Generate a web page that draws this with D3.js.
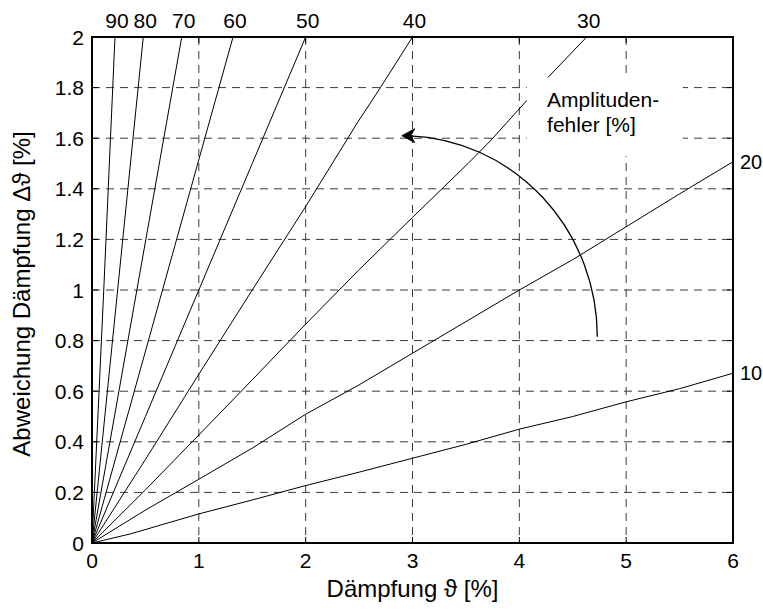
<!DOCTYPE html>
<html>
<head>
<meta charset="utf-8">
<script src="https://cdn.jsdelivr.net/npm/d3@7"></script>
<style>
  html, body { margin: 0; padding: 0; background: #fff; }
  svg text { font-family: "Liberation Sans", Arial, Helvetica, sans-serif; fill: #000; }
</style>
</head>
<body>
<svg id="chart" width="763" height="613"></svg>
<script>
// Damping deviation Δϑ over damping ϑ, one curve per amplitude error [%]
const curveNames = ["10", "20", "30", "40", "50", "60", "70", "80", "90"];

const curve10 = [[0,0],[0.36,0.036],[1,0.115],[1.5,0.17],[2,0.227],[2.5,0.28],[3,0.335],[3.5,0.39],[4,0.45],[4.5,0.5],[5,0.558],[5.5,0.61],[6,0.671]];
const curve20 = [[0,0],[0.5,0.13],[1,0.252],[1.5,0.375],[2,0.509],[2.5,0.625],[3,0.75],[3.5,0.875],[4,1.0],[4.5,1.12],[5,1.25],[5.5,1.38],[6,1.507]];
const curve30 = [[0,0],[0.5,0.21],[1,0.427],[1.5,0.645],[2,0.865],[2.5,1.08],[3,1.287],[3.52,1.5],[3.73,1.59],[4.2,1.81],[4.63,2.0]];
const curve40 = [[0,0],[0.5,0.33],[1,0.667],[1.5,1.0],[2,1.33],[2.49,1.665],[2.7,1.8],[3.0,2.0]];
const curve50 = [[0,0],[0.5,0.5],[1,1],[1.5,1.5],[2.0,2.0]];
const curve60 = [[0,0],[0.66,1.0],[1.32,2.0]];
const curve70 = [[0,0],[0.42,1.0],[0.84,2.0]];
const curve80 = [[0,0],[0.24,1.0],[0.48,2.0]];
const curve90 = [[0,0],[0.11,1.0],[0.215,2.0]];
const curves = [curve10, curve20, curve30, curve40, curve50, curve60, curve70, curve80, curve90];

const xTicks = [0, 1, 2, 3, 4, 5, 6];
const xTickLabels = ["0", "1", "2", "3", "4", "5", "6"];
const yTicks = [0, 0.2, 0.4, 0.6, 0.8, 1, 1.2, 1.4, 1.6, 1.8, 2];
const yTickLabels = ["0", "0.2", "0.4", "0.6", "0.8", "1", "1.2", "1.4", "1.6", "1.8", "2"];

const xTitle = "Dämpfung ϑ [%]";
const yTitle = "Abweichung Dämpfung Δϑ [%]";
const noteLines = ["Amplituden-", "fehler [%]"];
// curved arrow: start and tip of the quarter ellipse, in data units
const arrowStart = [4.73, 0.815];
const arrowTip = [2.9, 1.61];

const svg = d3.select("#chart");
const plotL = 92, plotR = 733, plotT = 37, plotB = 543;
const fs = 21;      // tick, curve and note labels
const fsTitle = 24; // axis titles

const x = d3.scaleLinear().domain([0, 6]).range([plotL, plotR]);
const y = d3.scaleLinear().domain([0, 2]).range([plotB, plotT]);

// dashed grid
const grid = svg.append("g");
grid.selectAll("line.gx").data(xTicks.slice(1, -1)).join("line")
  .attr("x1", d => x(d)).attr("x2", d => x(d))
  .attr("y1", plotT).attr("y2", plotB)
  .attr("stroke", "#3a3a3a").attr("stroke-width", 1).attr("stroke-dasharray", "8,6");
grid.selectAll("line.gy").data(yTicks.slice(1, -1)).join("line")
  .attr("x1", plotL).attr("x2", plotR)
  .attr("y1", d => y(d)).attr("y2", d => y(d))
  .attr("stroke", "#3a3a3a").attr("stroke-width", 1).attr("stroke-dasharray", "8,6");

// curves
const line = d3.line().x(d => x(d[0])).y(d => y(d[1]));
svg.append("g").selectAll("path").data(curves).join("path")
  .attr("d", line).attr("fill", "none").attr("stroke", "#000").attr("stroke-width", 1);

// curve labels: along the top for the steep ones, at the right for the flat ones
curves.forEach((c, i) => {
  const last = c[c.length - 1];
  if (last[1] >= 2) {
    svg.append("text").attr("x", x(last[0]) + 2).attr("y", plotT - 9)
      .attr("text-anchor", "middle").attr("font-size", fs).text(curveNames[i]);
  } else {
    svg.append("text").attr("x", x(last[0]) + 7).attr("y", y(last[1]) + 7)
      .attr("text-anchor", "start").attr("font-size", 20).text(curveNames[i]);
  }
});

// note with white background
svg.append("rect")
  .attr("x", x(4.07)).attr("y", y(1.84))
  .attr("width", x(5.53) - x(4.07)).attr("height", y(1.53) - y(1.84))
  .attr("fill", "#fff");
svg.append("text").attr("x", x(4.26)).attr("y", y(1.722)).attr("font-size", fs).text(noteLines[0]);
svg.append("text").attr("x", x(4.26)).attr("y", y(1.626)).attr("font-size", fs).text(noteLines[1]);

// curved arrow
const sx = x(arrowStart[0]), sy = y(arrowStart[1]);
const tx = x(arrowTip[0]), ty = y(arrowTip[1]);
const rx = sx - tx, ry = sy - ty;
svg.append("path")
  .attr("d", `M${sx},${sy} A${rx},${ry} 0 0 0 ${tx + 8},${ty + 0.2}`)
  .attr("fill", "none").attr("stroke", "#000").attr("stroke-width", 1.3);
svg.append("path")
  .attr("d", `M${tx},${ty} L${tx + 13},${ty - 7} L${tx + 9},${ty} L${tx + 13},${ty + 7} Z`)
  .attr("fill", "#000").attr("stroke", "#000").attr("stroke-width", 0.8).attr("stroke-linejoin", "miter");

// inward ticks on all four sides
const tk = 6;
const ticks = svg.append("g").attr("stroke", "#000").attr("stroke-width", 1);
xTicks.slice(1, -1).forEach(v => {
  ticks.append("line").attr("x1", x(v)).attr("x2", x(v)).attr("y1", plotB).attr("y2", plotB - tk);
  ticks.append("line").attr("x1", x(v)).attr("x2", x(v)).attr("y1", plotT).attr("y2", plotT + tk);
});
yTicks.slice(1, -1).forEach(v => {
  ticks.append("line").attr("x1", plotL).attr("x2", plotL + tk).attr("y1", y(v)).attr("y2", y(v));
  ticks.append("line").attr("x1", plotR).attr("x2", plotR - tk).attr("y1", y(v)).attr("y2", y(v));
});

// frame
svg.append("rect").attr("x", plotL).attr("y", plotT)
  .attr("width", plotR - plotL).attr("height", plotB - plotT)
  .attr("fill", "none").attr("stroke", "#000").attr("stroke-width", 2);

// tick labels
svg.append("g").selectAll("text").data(xTicks).join("text")
  .attr("x", d => x(d)).attr("y", plotB + 25)
  .attr("text-anchor", "middle").attr("font-size", fs)
  .text((d, i) => xTickLabels[i]);
svg.append("g").selectAll("text").data(yTicks).join("text")
  .attr("x", plotL - 8).attr("y", d => y(d) + 7.5)
  .attr("text-anchor", "end").attr("font-size", fs)
  .text((d, i) => yTickLabels[i]);

// axis titles
svg.append("text").attr("x", (plotL + plotR) / 2).attr("y", 597)
  .attr("text-anchor", "middle").attr("font-size", fsTitle).text(xTitle);
svg.append("text")
  .attr("transform", `translate(30,${(plotT + plotB) / 2 + 4}) rotate(-90)`)
  .attr("text-anchor", "middle").attr("font-size", fsTitle).text(yTitle);
</script>
</body>
</html>
